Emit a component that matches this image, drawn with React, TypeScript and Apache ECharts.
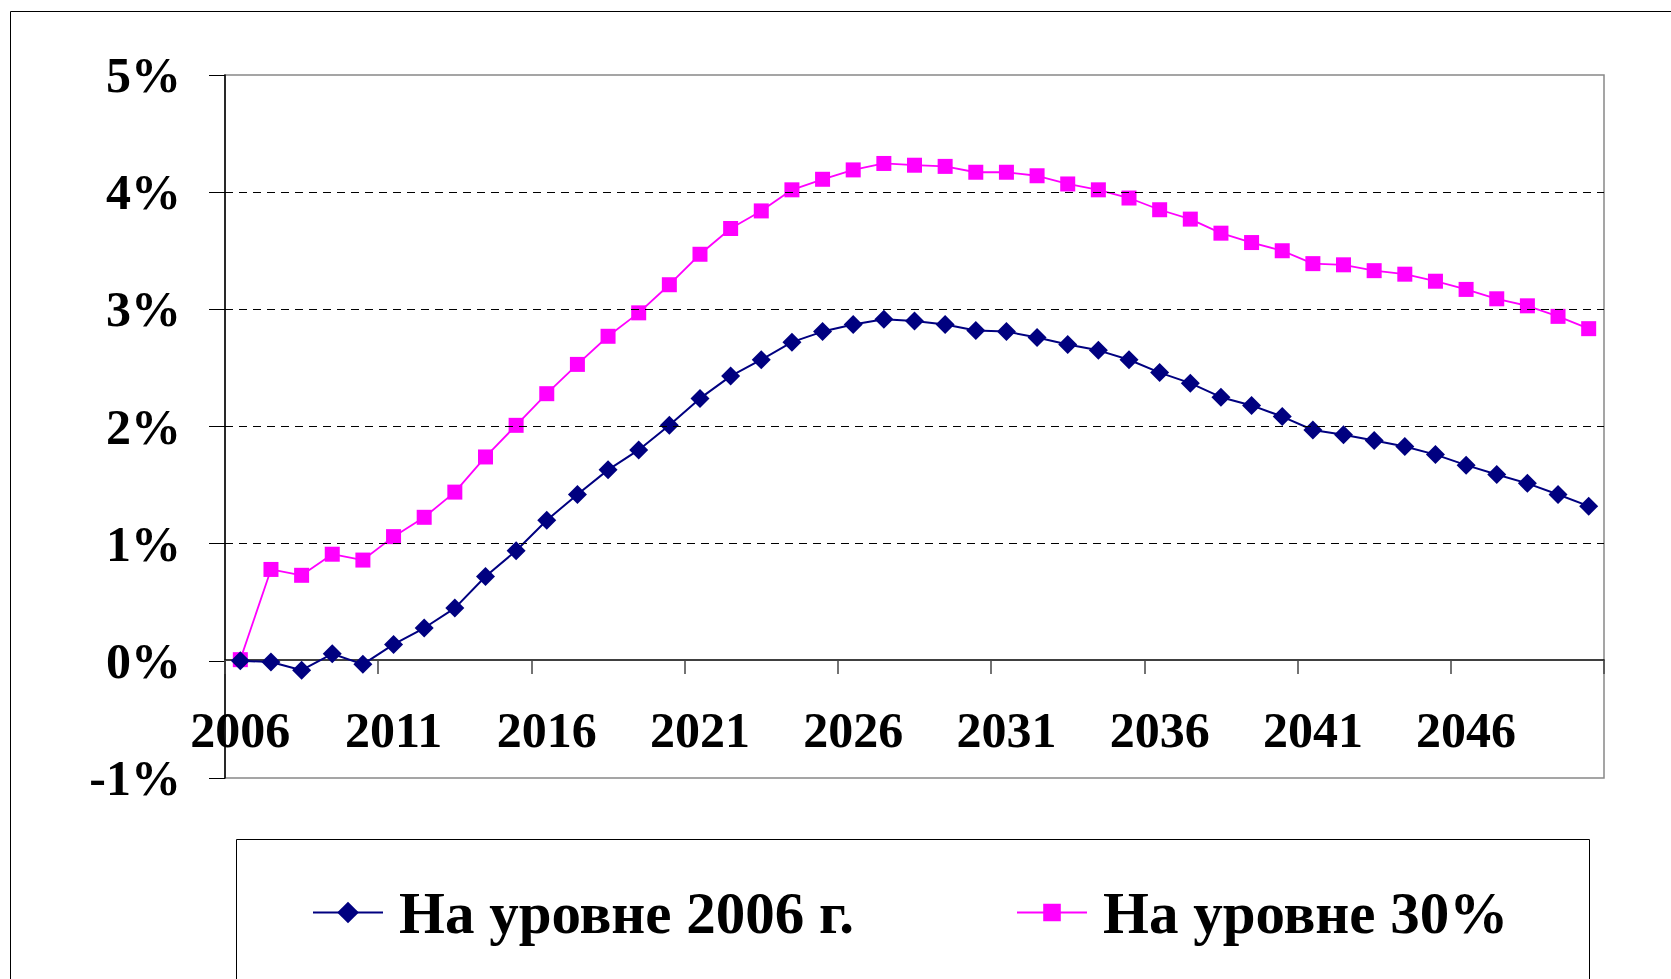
import React, { useEffect, useRef } from "react";
import * as echarts from "echarts";

const years: string[] = [];
for (let y = 2006; y <= 2050; y++) years.push(String(y));

const level2006 = [
  0.0, -0.01, -0.08, 0.06, -0.03, 0.14, 0.28, 0.45, 0.72, 0.94,
  1.2, 1.42, 1.63, 1.8, 2.01, 2.24, 2.43, 2.57, 2.72, 2.81,
  2.87, 2.915, 2.9, 2.87, 2.82, 2.81, 2.76, 2.7, 2.65, 2.57,
  2.46, 2.37, 2.25, 2.18, 2.085, 1.97, 1.93, 1.88, 1.83, 1.76,
  1.67, 1.59, 1.515, 1.42, 1.32,
];

const level30 = [
  0.01, 0.78, 0.73, 0.91, 0.86, 1.06, 1.225, 1.44, 1.74, 2.01,
  2.28, 2.53, 2.77, 2.97, 3.21, 3.47, 3.69, 3.84, 4.02, 4.11,
  4.19, 4.245, 4.23, 4.22, 4.17, 4.17, 4.14, 4.07, 4.02, 3.95,
  3.85, 3.77, 3.65, 3.57, 3.5, 3.39, 3.38, 3.33, 3.3, 3.24,
  3.17, 3.09, 3.03, 2.94, 2.835,
];

const gridLines = [1, 2, 3, 4];

const seriesNames = ["На уровне 2006 г.", "На уровне 30%"];

const FONT = '"Liberation Serif", "Times New Roman", serif';

export default function App() {
  const ref = useRef<HTMLDivElement>(null);

  useEffect(() => {
    if (!ref.current) return;
    const chart = echarts.init(ref.current, undefined, { renderer: "svg" });
    const legendText = {
      fontFamily: FONT,
      fontWeight: "bold" as const,
      fontSize: 59,
      color: "#000",
      padding: [0, 0, 0, 11],
    };
    chart.setOption({
      animation: false,
      backgroundColor: "#fff",
      grid: {
        left: 225,
        top: 75,
        right: 67,
        bottom: 201,
        show: true,
        borderColor: "#888",
        borderWidth: 1.5,
        backgroundColor: "transparent",
      },
      graphic: [
        {
          type: "rect",
          shape: { x: 10.5, y: 11.5, width: 1700, height: 1000 },
          style: { fill: "none", stroke: "#000", lineWidth: 1 },
          z: -1,
        },
        {
          type: "rect",
          shape: { x: 236.5, y: 839.5, width: 1353, height: 200 },
          style: { fill: "none", stroke: "#000", lineWidth: 1 },
          z: -1,
        },
      ],
      legend: [
        {
          data: [seriesNames[0]],
          left: 307,
          top: 878,
          itemWidth: 70,
          itemHeight: 27,
          textStyle: legendText,
        },
        {
          data: [seriesNames[1]],
          left: 1011,
          top: 878,
          itemWidth: 70,
          itemHeight: 22,
          textStyle: legendText,
        },
      ],
      xAxis: {
        type: "category",
        data: years,
        boundaryGap: true,
        offset: -118,
        axisLine: { show: true, onZero: false, lineStyle: { color: "#000", width: 1.5 } },
        axisTick: {
          show: true,
          alignWithLabel: false,
          interval: 4,
          length: 14,
          lineStyle: { color: "#444", width: 1.5 },
        },
        axisLabel: {
          interval: 4,
          margin: 45,
          fontFamily: FONT,
          fontWeight: "bold",
          fontSize: 50,
          color: "#000",
        },
        splitLine: { show: false },
      },
      yAxis: {
        type: "value",
        min: -1,
        max: 5,
        interval: 1,
        axisLine: { show: true, lineStyle: { color: "#000", width: 1.5 } },
        axisTick: { show: true, length: 16, lineStyle: { color: "#000", width: 1 } },
        axisLabel: {
          formatter: "{value}%",
          margin: 44,
          fontFamily: FONT,
          fontWeight: "bold",
          fontSize: 50,
          color: "#000",
        },
        splitLine: { show: false },
      },
      series: [
        {
          name: seriesNames[0],
          type: "line",
          data: level2006,
          symbol: "diamond",
          symbolSize: 19,
          itemStyle: { color: "#000080" },
          lineStyle: { color: "#000080", width: 2 },
          z: 3,
          markLine: {
            silent: true,
            symbol: "none",
            label: { show: false },
            lineStyle: { color: "#000", type: [8, 6], width: 1 },
            data: gridLines.map((v) => ({ yAxis: v })),
          },
        },
        {
          name: seriesNames[1],
          type: "line",
          data: level30,
          symbol: "rect",
          symbolSize: 15,
          itemStyle: { color: "#FF00FF" },
          lineStyle: { color: "#FF00FF", width: 1.8 },
          z: 2,
        },
      ],
    });
    return () => chart.dispose();
  }, []);

  return (
    <div
      ref={ref}
      style={{ position: "absolute", left: 0, top: 0, width: 1671, height: 979 }}
    />
  );
}
